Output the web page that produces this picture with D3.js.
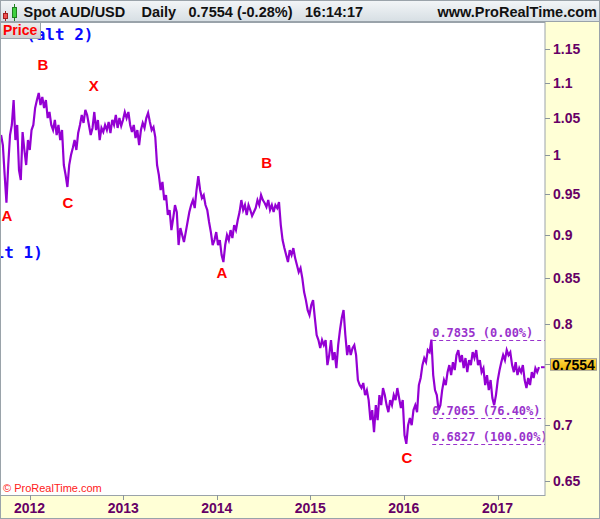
<!DOCTYPE html>
<html><head><meta charset="utf-8">
<script src="https://cdn.jsdelivr.net/npm/d3@7"></script>
<style>body{margin:0;background:#fff}svg{display:block}</style>
</head><body><svg id="c" width="600" height="519"></svg>
<script>
// ---- data (weekly closes) ----
const startDate = "2011-09-12";
const closes = [
1.0265,1.0130,0.9737,0.9387,0.9866,1.0265,1.0402,1.0751,1.0197,1.0402,
0.9801,0.9673,1.0306,1.0064,0.9866,1.0197,1.0064,1.0333,1.0402,1.0638,
1.0751,1.0851,1.0680,1.0793,1.0638,1.0751,1.0498,1.0582,1.0402,1.0333,
1.0471,1.0265,1.0402,1.0197,1.0333,0.9866,0.9737,0.9584,0.9866,0.9997,
1.0090,1.0197,1.0064,1.0292,1.0402,1.0540,1.0430,1.0610,1.0540,1.0402,
1.0265,1.0361,1.0582,1.0333,1.0471,1.0197,1.0361,1.0306,1.0402,1.0333,
1.0443,1.0292,1.0471,1.0402,1.0540,1.0361,1.0498,1.0388,1.0471,1.0582,
1.0498,1.0582,1.0402,1.0306,1.0402,1.0224,1.0333,1.0130,1.0333,1.0430,
1.0361,1.0498,1.0568,1.0443,1.0333,1.0374,1.0238,0.9866,0.9737,0.9546,
0.9648,0.9420,0.9483,0.9236,0.9297,0.9054,0.9199,0.9358,0.9272,0.8877,
0.9078,0.8995,0.8912,0.9030,0.9151,0.9272,0.9358,0.9420,0.9321,0.9546,
0.9724,0.9546,0.9445,0.9483,0.9358,0.9297,0.9151,0.9030,0.8877,0.8935,
0.9030,0.8877,0.8935,0.8760,0.8679,0.8877,0.8995,0.8935,0.9054,0.8959,
0.9114,0.9054,0.9175,0.9272,0.9420,0.9297,0.9358,0.9236,0.9358,0.9297,
0.9224,0.9272,0.9321,0.9420,0.9358,0.9483,0.9420,0.9383,0.9334,0.9420,
0.9297,0.9358,0.9272,0.9358,0.9321,0.9395,0.9114,0.8935,0.8841,0.8760,
0.8679,0.8818,0.8760,0.8841,0.8725,0.8645,0.8565,0.8611,0.8498,0.8342,
0.8254,0.8146,0.8093,0.8200,0.8254,0.8061,0.7882,0.7830,0.7747,0.7830,
0.7778,0.7830,0.7575,0.7676,0.7830,0.7625,0.7706,0.7545,0.7778,0.7934,
0.8061,0.8146,0.7882,0.7676,0.7778,0.7676,0.7747,0.7778,0.7676,0.7427,
0.7378,0.7349,0.7398,0.7281,0.7329,0.7233,0.7044,0.7138,0.6934,0.7185,
0.7044,0.7281,0.7185,0.7349,0.7281,0.7185,0.7119,0.7233,0.7185,0.7281,
0.7233,0.7349,0.7252,0.7157,0.7233,0.6906,0.6827,0.6998,0.7063,0.6998,
0.7138,0.7185,0.7119,0.7378,0.7447,0.7575,0.7646,0.7605,0.7727,0.7706,
0.7835,0.7476,0.7329,0.7281,0.7138,0.7185,0.7329,0.7427,0.7378,0.7505,
0.7575,0.7476,0.7605,0.7525,0.7676,0.7727,0.7605,0.7676,0.7545,0.7646,
0.7505,0.7625,0.7575,0.7706,0.7646,0.7727,0.7575,0.7625,0.7505,0.7545,
0.7378,0.7476,0.7329,0.7427,0.7252,0.7185,0.7281,0.7427,0.7525,0.7605,
0.7676,0.7625,0.7727,0.7676,0.7706,0.7575,0.7505,0.7605,0.7476,0.7545,
0.7505,0.7575,0.7427,0.7349,0.7447,0.7378,0.7505,0.7447,0.7545,0.7505,
0.7554
];
const lastPrice = 0.7554;
const yTickValues = [0.65, 0.7, 0.8, 0.85, 0.9, 0.95, 1, 1.05, 1.1, 1.15];
const yTickLabels = ["0.65","0.7","0.8","0.85","0.9","0.95","1","1.05","1.1","1.15"];
const yearTicks = [2012, 2013, 2014, 2015, 2016, 2017];
const fibValues = [0.7835, 0.7065, 0.6827];
const fibLabels = ["0.7835 (0.00%)", "0.7065 (76.40%)", "0.6827 (100.00%)"];
const fibStart = "2016-04-21";
const waveText = ["A", "B", "C", "X", "A", "B", "C"];
const waveDates = ["2011-10-05", "2012-02-22", "2012-05-30", "2012-09-08", "2014-01-21", "2014-07-15", "2016-01-13"];
const wavePrices = [0.9236, 1.1260, 0.9395, 1.0966, 0.8565, 0.9893, 0.6709];
const altText = ["(alt 2)", "(alt 1)"];

// ---- chart ----
const svg = d3.select("#c");
const parse = d3.timeParse("%Y-%m-%d");
const P = {l: 1, r: 545, t: 22, b: 495};
const x = d3.scaleTime().domain([new Date(2012,0,1), new Date(2017,0,1)]).range([29.5, 497.5]);
const y = d3.scaleLog().domain([0.65, 1.15]).range([481, 49]);
const t0 = parse(startDate);
const series = closes.map((v, i) => ({d: d3.timeDay.offset(t0, 7*i), v}));

const defs = svg.append("defs");
const hg = defs.append("linearGradient").attr("id","hg").attr("x1",0).attr("y1",0).attr("x2",0).attr("y2",1);
hg.append("stop").attr("offset","0").attr("stop-color","#f3f6f8");
hg.append("stop").attr("offset","1").attr("stop-color","#d6dee3");
const tg = defs.append("linearGradient").attr("id","tg").attr("x1",0).attr("y1",0).attr("x2",0).attr("y2",1);
tg.append("stop").attr("offset","0").attr("stop-color","#ffd84a");
tg.append("stop").attr("offset","1").attr("stop-color","#f0b400");
const pg = defs.append("linearGradient").attr("id","pg").attr("x1",0).attr("y1",0).attr("x2",0).attr("y2",1);
pg.append("stop").attr("offset","0").attr("stop-color","#eeeeee");
pg.append("stop").attr("offset","1").attr("stop-color","#cfcfcf");
defs.append("clipPath").attr("id","clip").append("rect")
  .attr("x",P.l).attr("y",P.t).attr("width",P.r-P.l).attr("height",P.b-P.t);

// backgrounds
svg.append("rect").attr("width",600).attr("height",519).attr("fill","#ffffd6");
svg.append("rect").attr("x",P.l).attr("y",P.t).attr("width",P.r-P.l).attr("height",P.b-P.t).attr("fill","#fff");

const g = svg.append("g").attr("clip-path","url(#clip)");

// price line
g.append("path").datum(series)
  .attr("d", d3.line().x(d => x(d.d)).y(d => y(d.v)))
  .attr("fill","none").attr("stroke","#9400d3").attr("stroke-width",2.2).attr("stroke-linejoin","miter");

// fib lines
const fx = x(parse(fibStart));
fibValues.forEach((v, i) => {
  g.append("line").attr("x1", fx).attr("x2", P.r).attr("y1", Math.round(y(v))+0.5).attr("y2", Math.round(y(v))+0.5)
    .attr("stroke","#9933cc").attr("stroke-width",1).attr("stroke-dasharray","4,3");
  g.append("text").attr("x", fx).attr("y", y(v) - 3).text(fibLabels[i])
    .attr("font-family","DejaVu Sans Mono").attr("font-size",12).attr("font-weight","bold").attr("fill","#9933cc");
});
// last price marker on the plot edge
g.append("line").attr("x1",P.r-4).attr("x2",P.r).attr("y1",y(lastPrice)).attr("y2",y(lastPrice))
  .attr("stroke","#9400d3").attr("stroke-width",2);

// wave labels
waveText.forEach((t, i) => {
  g.append("text").attr("x", x(parse(waveDates[i]))).attr("y", y(wavePrices[i]))
    .attr("text-anchor","middle").attr("dominant-baseline","central")
    .attr("font-family","Liberation Sans, Arial").attr("font-weight","bold").attr("font-size",15)
    .attr("fill","#ff0000").text(t);
});

// alt labels
g.append("text").attr("x",26).attr("y",40).text(altText[0])
  .attr("font-family","DejaVu Sans Mono").attr("font-weight","bold").attr("font-size",16).attr("fill","#0a0aff");
g.append("text").attr("x",-24.6).attr("y",258).text(altText[1])
  .attr("font-family","DejaVu Sans Mono").attr("font-weight","bold").attr("font-size",16).attr("fill","#0a0aff");

// copyright
svg.append("text").attr("x",3).attr("y",492).text("© ProRealTime.com")
  .attr("font-family","Liberation Sans, Arial").attr("font-size",11).attr("fill","#ff2020");

// plot frame
svg.append("rect").attr("x",0.5).attr("y",P.t+0.5).attr("width",P.r-0.5).attr("height",P.b-P.t)
  .attr("fill","none").attr("stroke","#9aa3aa");

// right axis
yTickValues.forEach((v, i) => {
  const yy = Math.round(y(v)) + 0.5;
  svg.append("line").attr("x1",P.r).attr("x2",P.r+5).attr("y1",yy).attr("y2",yy).attr("stroke","#8a949c");
  svg.append("text").attr("x",553).attr("y",y(v)).attr("dominant-baseline","central")
    .attr("font-family","Liberation Sans, Arial").attr("font-weight","bold").attr("font-size",14)
    .attr("fill","#660066").text(yTickLabels[i]);
});
// bottom axis
yearTicks.forEach(yr => {
  const xx = Math.round(x(new Date(yr,0,1))) + 0.5;
  svg.append("line").attr("x1",xx).attr("x2",xx).attr("y1",P.b).attr("y2",P.b+5).attr("stroke","#8a949c");
  svg.append("text").attr("x",x(new Date(yr,0,1))).attr("y",513).attr("text-anchor","middle")
    .attr("font-family","Liberation Sans, Arial").attr("font-weight","bold").attr("font-size",14)
    .attr("fill","#660066").text(yr);
});

// last price tag
const ty = y(lastPrice) - 3;
svg.append("line").attr("x1",P.r).attr("x2",P.r+5).attr("y1",Math.round(ty)+0.5).attr("y2",Math.round(ty)+0.5).attr("stroke","#8a949c");
svg.append("rect").attr("x",550.5).attr("y",ty-5.5).attr("width",46).attr("height",11.5)
  .attr("fill","url(#tg)").attr("stroke","#9a9a9a");
svg.append("text").attr("x",573.5).attr("y",ty+0.5).attr("text-anchor","middle").attr("dominant-baseline","central")
  .attr("font-family","Liberation Sans, Arial").attr("font-weight","bold").attr("font-size",14)
  .attr("fill","#000").text(d3.format(".4f")(lastPrice));

// header
svg.append("rect").attr("x",0).attr("y",0).attr("width",600).attr("height",P.t).attr("fill","url(#hg)");
svg.append("line").attr("x1",0).attr("x2",600).attr("y1",P.t-0.5).attr("y2",P.t-0.5).attr("stroke","#9aa3aa");
// icon
svg.append("line").attr("x1",5.5).attr("x2",5.5).attr("y1",11).attr("y2",21).attr("stroke","#a02020");
svg.append("rect").attr("x",3.5).attr("y",13.5).attr("width",4).attr("height",5).attr("fill","#f05050").attr("stroke","#a02020");
svg.append("line").attr("x1",14.5).attr("x2",14.5).attr("y1",4).attr("y2",21).attr("stroke","#208020");
svg.append("rect").attr("x",12.5).attr("y",7.5).attr("width",4).attr("height",10).attr("fill","#40d040").attr("stroke","#208020");
const hdr = [["Spot AUD/USD",23.5],["Daily",141.5],["0.7554 (-0.28%)",188.5],["16:14:17",305]];
hdr.forEach(h => svg.append("text").attr("x",h[1]).attr("y",16.5).text(h[0])
  .attr("font-family","Liberation Sans, Arial").attr("font-weight","bold").attr("font-size",14.5).attr("fill","#111"));
svg.append("text").attr("x",597).attr("y",16.5).attr("text-anchor","end").text("www.ProRealTime.com")
  .attr("font-family","Liberation Sans, Arial").attr("font-weight","bold").attr("font-size",14.5).attr("fill","#111");

// Price tag
svg.append("rect").attr("x",0.5).attr("y",P.t+0.5).attr("width",40).attr("height",16)
  .attr("fill","url(#pg)").attr("stroke","#9aa3aa");
svg.append("text").attr("x",3).attr("y",P.t+13).text("Price")
  .attr("font-family","Liberation Sans, Arial").attr("font-weight","bold").attr("font-size",14).attr("fill","#ff0000");

// outer border
svg.append("rect").attr("x",0.5).attr("y",0.5).attr("width",599).attr("height",518).attr("fill","none").attr("stroke","#9aa3aa");
</script></body></html>
